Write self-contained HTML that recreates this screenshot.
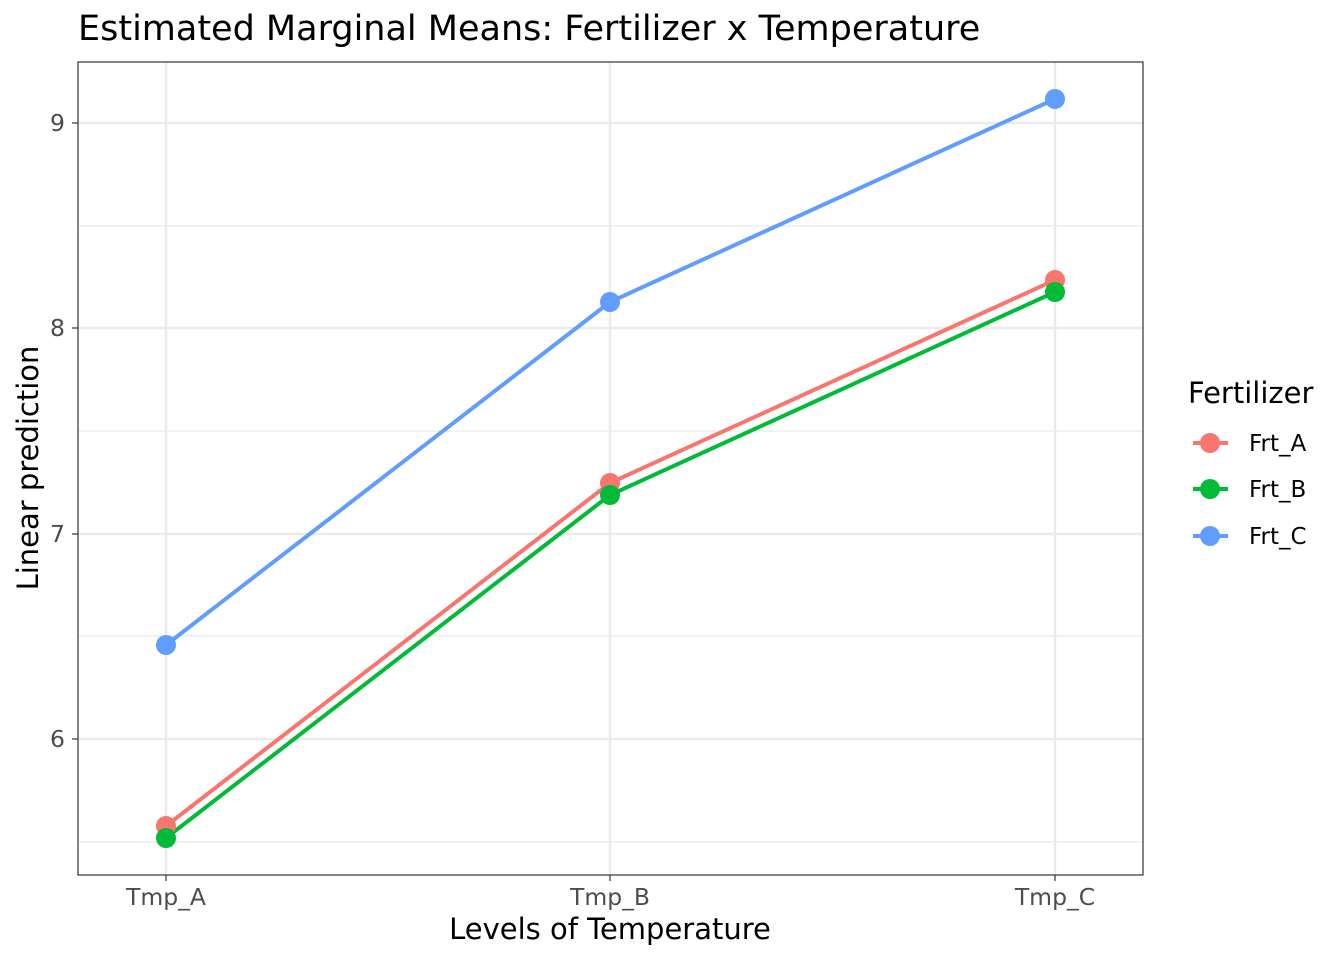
<!DOCTYPE html>
<html><head><meta charset="utf-8"><style>html,body{margin:0;padding:0;background:#fff}svg{display:block}</style></head>
<body>
<svg width="1344" height="960" xmlns="http://www.w3.org/2000/svg" font-family="DejaVu Sans, Liberation Sans, sans-serif">
<rect width="1344" height="960" fill="#fff"/>
<g stroke="#ebebeb" stroke-width="1.2">
<line x1="78" x2="1143" y1="226" y2="226"/><line x1="78" x2="1143" y1="431" y2="431"/>
<line x1="78" x2="1143" y1="636" y2="636"/><line x1="78" x2="1143" y1="842" y2="842"/>
</g>
<g stroke="#ebebeb" stroke-width="2.4">
<line x1="78" x2="1143" y1="123" y2="123"/><line x1="78" x2="1143" y1="328" y2="328"/>
<line x1="78" x2="1143" y1="534" y2="534"/><line x1="78" x2="1143" y1="739" y2="739"/>
<line x1="166" x2="166" y1="62" y2="875"/><line x1="610" x2="610" y1="62" y2="875"/><line x1="1055" x2="1055" y1="62" y2="875"/>
</g>
<polyline points="166,826 610,483 1055,280" fill="none" stroke="#F8766D" stroke-width="4"/>
<polyline points="166,838 610,495 1055,292" fill="none" stroke="#00BA38" stroke-width="4"/>
<polyline points="166,645 610,302 1055,99" fill="none" stroke="#619CFF" stroke-width="4"/>
<g fill="#F8766D"><circle cx="166" cy="826" r="10"/><circle cx="610" cy="483" r="10"/><circle cx="1055" cy="280" r="10"/></g>
<g fill="#00BA38"><circle cx="166" cy="838" r="10"/><circle cx="610" cy="495" r="10"/><circle cx="1055" cy="292" r="10"/></g>
<g fill="#619CFF"><circle cx="166" cy="645" r="10"/><circle cx="610" cy="302" r="10"/><circle cx="1055" cy="99" r="10"/></g>
<rect x="78" y="62" width="1065" height="813" fill="none" stroke="#333" stroke-width="1.2"/>
<g stroke="#333" stroke-width="1.2">
<line x1="72" x2="78" y1="123" y2="123"/><line x1="72" x2="78" y1="328" y2="328"/><line x1="72" x2="78" y1="534" y2="534"/><line x1="72" x2="78" y1="739" y2="739"/>
<line x1="166" x2="166" y1="875" y2="881"/><line x1="610" x2="610" y1="875" y2="881"/><line x1="1055" x2="1055" y1="875" y2="881"/>
</g>
<g fill="#4d4d4d" font-size="23.5" text-anchor="end">
<text x="65" y="131">9</text><text x="65" y="336">8</text><text x="65" y="542">7</text><text x="65" y="747">6</text>
</g>
<g fill="#4d4d4d" font-size="23.5" text-anchor="middle">
<text x="166" y="905">Tmp_A</text><text x="610" y="905">Tmp_B</text><text x="1055" y="905">Tmp_C</text>
</g>
<text x="610" y="939" font-size="29" text-anchor="middle" fill="#000">Levels of Temperature</text>
<text transform="translate(38,468) rotate(-90)" font-size="29" text-anchor="middle" fill="#000">Linear prediction</text>
<text x="78" y="40" font-size="35" fill="#000">Estimated Marginal Means: Fertilizer x Temperature</text>
<text x="1188" y="403" font-size="29" fill="#000">Fertilizer</text>
<g stroke-width="4">
<line x1="1193" x2="1228" y1="443" y2="443" stroke="#F8766D"/>
<line x1="1193" x2="1228" y1="489" y2="489" stroke="#00BA38"/>
<line x1="1193" x2="1228" y1="536" y2="536" stroke="#619CFF"/>
</g>
<circle cx="1210" cy="443" r="10" fill="#F8766D"/><circle cx="1210" cy="489" r="10" fill="#00BA38"/><circle cx="1210" cy="536" r="10" fill="#619CFF"/>
<g font-size="23" fill="#000">
<text x="1249" y="451">Frt_A</text><text x="1249" y="497">Frt_B</text><text x="1249" y="544">Frt_C</text>
</g>
</svg>
</body></html>
